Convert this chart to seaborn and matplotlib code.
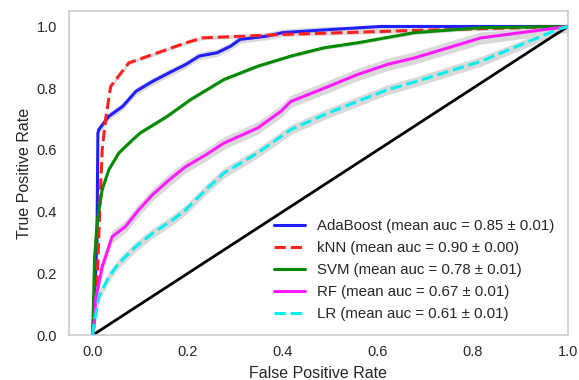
import numpy as np
import pandas as pd
import matplotlib
matplotlib.use("Agg")
import matplotlib.pyplot as plt
import seaborn as sns

# ---- data ----
models = ["AdaBoost", "kNN", "SVM", "RF", "LR"]
mean_auc = [0.85, 0.90, 0.78, 0.67, 0.61]
std_auc = [0.01, 0.00, 0.01, 0.01, 0.01]

ada_fpr = [0, 0.009, 0.011, 0.013, 0.034, 0.063, 0.091, 0.126, 0.161, 0.196, 0.224, 0.262, 0.29, 0.31, 0.368, 0.40, 0.5, 0.606, 0.8, 1.0]
ada_tpr = [0, 0.30, 0.655, 0.666, 0.709, 0.741, 0.79, 0.822, 0.85, 0.877, 0.904, 0.915, 0.936, 0.958, 0.969, 0.98, 0.99, 1.0, 1.0, 1.0]

knn_fpr = [0, 0.01, 0.016, 0.02, 0.027, 0.038, 0.076, 0.126, 0.196, 0.231, 0.40, 0.676, 1.0]
knn_tpr = [0, 0.20, 0.45, 0.60, 0.698, 0.806, 0.882, 0.909, 0.947, 0.963, 0.974, 0.987, 1.0]

svm_fpr = [0, 0.004, 0.01, 0.02, 0.034, 0.055, 0.084, 0.10, 0.157, 0.206, 0.276, 0.347, 0.417, 0.487, 0.557, 0.677, 0.817, 1.0]
svm_tpr = [0, 0.25, 0.373, 0.471, 0.536, 0.59, 0.633, 0.655, 0.709, 0.763, 0.828, 0.871, 0.904, 0.931, 0.947, 0.98, 0.996, 1.0]

rf_fpr = [0, 0.003, 0.006, 0.02, 0.041, 0.069, 0.097, 0.126, 0.161, 0.196, 0.238, 0.276, 0.347, 0.396, 0.417, 0.487, 0.557, 0.62, 0.677, 0.817, 1.0]
rf_tpr = [0, 0.027, 0.114, 0.222, 0.319, 0.352, 0.406, 0.455, 0.503, 0.546, 0.584, 0.622, 0.671, 0.725, 0.757, 0.80, 0.844, 0.877, 0.898, 0.963, 1.0]

lr_fpr = [0, 0.002, 0.013, 0.034, 0.055, 0.091, 0.126, 0.168, 0.196, 0.238, 0.276, 0.347, 0.417, 0.487, 0.557, 0.62, 0.677, 0.817, 0.978, 1.0]
lr_tpr = [0, 0.027, 0.124, 0.189, 0.233, 0.287, 0.33, 0.373, 0.406, 0.471, 0.525, 0.59, 0.666, 0.714, 0.757, 0.795, 0.82, 0.887, 0.99, 1.0]

band = [0.012, 0.006, 0.006, 0.02, 0.016]  # half-width of grey +/- std band

fprs = [ada_fpr, knn_fpr, svm_fpr, rf_fpr, lr_fpr]
tprs = [ada_tpr, knn_tpr, svm_tpr, rf_tpr, lr_tpr]
colors = ["#1f1fff", "#ff2020", "#008a00", "#ff1aff", "#00f0f0"]
styles = ["-", "--", "-", "-", "--"]

# ---- style ----
sns.set_theme(style="whitegrid", rc={"axes.grid": False})
plt.rcParams["font.family"] = ["Liberation Sans", "DejaVu Sans"]

fig = plt.figure(figsize=(5.79, 3.80), dpi=100)
ax = fig.add_axes([0.119, 0.118, 0.862, 0.853])

for i, m in enumerate(models):
    x = np.array(fprs[i], dtype=float)
    y = np.array(tprs[i], dtype=float)
    ax.fill_between(x, np.clip(y - band[i], 0, 1), np.clip(y + band[i], 0, 1),
                    color="#d9d9d9", lw=0, zorder=1)

for i, m in enumerate(models):
    df = pd.DataFrame({"fpr": fprs[i], "tpr": tprs[i]})
    lbl = f"{m} (mean auc = {mean_auc[i]:.2f} ± {std_auc[i]:.2f})"
    sns.lineplot(data=df, x="fpr", y="tpr", ax=ax, color=colors[i], lw=2.2,
                 linestyle=styles[i], label=lbl, sort=False, estimator=None, zorder=3)

sns.lineplot(x=[0, 1], y=[0, 1], ax=ax, color="black", lw=2.0, zorder=2)

ax.set_xlim(-0.05, 1.0)
ax.set_ylim(0.0, 1.05)
ax.set_xticks([0.0, 0.2, 0.4, 0.6, 0.8, 1.0])
ax.set_yticks([0.0, 0.2, 0.4, 0.6, 0.8, 1.0])
ax.tick_params(labelsize=10.5, colors="#262626", length=0)
ax.tick_params(axis="x", pad=7)
ax.tick_params(axis="y", pad=8.5)
ax.set_xlabel("False Positive Rate", fontsize=11.5, color="#262626", labelpad=5)
ax.set_ylabel("True Positive Rate", fontsize=11.5, color="#262626", labelpad=3.5)
for s in ax.spines.values():
    s.set_color("#cccccc")
    s.set_linewidth(1.2)

leg = ax.legend(loc="lower right", bbox_to_anchor=(1.006, -0.007), frameon=False,
                fontsize=10.8, handlelength=2.1, handletextpad=0.8,
                labelspacing=0.53, borderpad=0.6)
for t in leg.get_texts():
    t.set_color("#262626")

fig.savefig("out.png", dpi=100)
